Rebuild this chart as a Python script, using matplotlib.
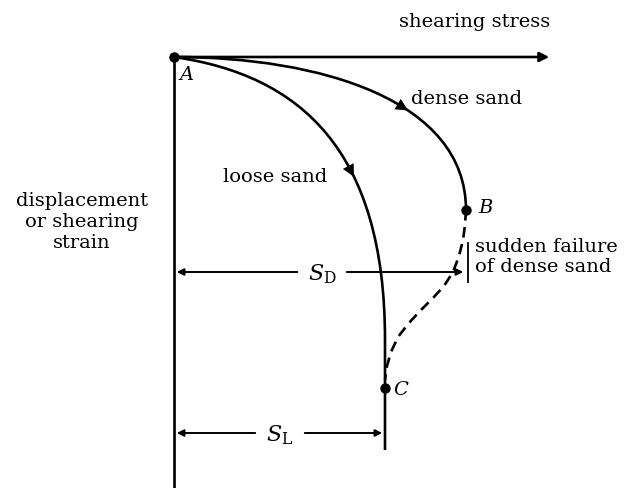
import numpy as np
import matplotlib.pyplot as plt
from matplotlib.path import Path
from matplotlib.patches import PathPatch
from matplotlib.bezier import BezierSegment

plt.rcParams['mathtext.fontset'] = 'dejavuserif'

# Curves (pixel-like units, y grows downward)
# dense sand: cubic Bezier A -> B (end points + two control points)
dense_x = [174, 320, 466, 466]
dense_y = [57, 57, 100, 210]

# loose sand: cubic Bezier A -> vertical part, then straight down
loose_x = [174, 300, 385, 385, 385]
loose_y = [57, 75, 150, 340, 450]

# sudden failure (dashed) B -> C
fail_x = [466, 465, 463, 459, 453, 444, 433, 420, 408, 398, 391, 387, 385]
fail_y = [210, 225, 240, 256, 272, 286, 298, 311, 324, 337, 352, 366, 380]

point_A = (174, 57)
point_B = (466, 210)
point_C = (385, 388)

sd_y, sd_x1 = 272, 466
sl_y, sl_x1 = 433, 385

fig = plt.figure(figsize=(6.33, 4.88), dpi=100)
ax = fig.add_axes([0, 0, 1, 1])
ax.set_xlim(0, 633)
ax.set_ylim(488, 0)
ax.axis('off')

fam = 'DejaVu Serif'
fs = 14
lw = 1.9

# axes
ax.annotate('', xy=(552, 57), xytext=point_A,
            arrowprops=dict(arrowstyle='-|>', lw=lw, color='black', mutation_scale=14))
ax.plot([174, 174], [57, 488], color='black', lw=lw)

# curves
dense_path = Path(list(zip(dense_x, dense_y)),
                  [Path.MOVETO, Path.CURVE4, Path.CURVE4, Path.CURVE4])
ax.add_patch(PathPatch(dense_path, fc='none', ec='black', lw=lw))
loose_path = Path(list(zip(loose_x, loose_y)),
                  [Path.MOVETO, Path.CURVE4, Path.CURVE4, Path.CURVE4, Path.LINETO])
ax.add_patch(PathPatch(loose_path, fc='none', ec='black', lw=lw))
ax.plot(fail_x, fail_y, color='black', lw=lw, ls=(0, (4, 2.5)))

# arrowheads along the curves
dense_seg = BezierSegment(np.column_stack([dense_x, dense_y]))
loose_seg = BezierSegment(np.column_stack([loose_x[:4], loose_y[:4]]))
for seg, t in ((dense_seg, 0.61), (loose_seg, 0.64)):
    ax.annotate('', xy=tuple(seg.point_at_t(t)), xytext=tuple(seg.point_at_t(t - 0.05)),
                arrowprops=dict(arrowstyle='-|>', lw=0, color='black', mutation_scale=22,
                                shrinkA=0, shrinkB=0))

# points
for p in (point_A, point_B, point_C):
    ax.plot(*p, 'o', color='black', ms=6.5)

# dimension lines
dim = dict(arrowstyle='-|>', lw=1.4, color='black', mutation_scale=10)
ax.annotate('', xy=(174, sd_y), xytext=(300, sd_y), arrowprops=dim)
ax.annotate('', xy=(sd_x1, sd_y), xytext=(344, sd_y), arrowprops=dim)
ax.plot([468, 468], [243, 282], color='black', lw=1.3)
ax.annotate('', xy=(174, sl_y), xytext=(258, sl_y), arrowprops=dim)
ax.annotate('', xy=(sl_x1, sl_y), xytext=(302, sl_y), arrowprops=dim)

# texts
ax.text(550, 22, 'shearing stress', ha='right', va='center', fontsize=fs, family=fam)
ax.text(522, 99, 'dense sand', ha='right', va='center', fontsize=fs, family=fam)
ax.text(275, 177, 'loose sand', ha='center', va='center', fontsize=fs, family=fam)
ax.text(82, 222, 'displacement\nor shearing\nstrain', ha='center', va='center',
        fontsize=fs, family=fam, linespacing=1.2)
ax.text(475, 257, 'sudden failure\nof dense sand', ha='left', va='center',
        fontsize=fs, family=fam, linespacing=1.2)
ax.text(179, 75, 'A', ha='left', va='center', fontsize=fs, family=fam, style='italic')
ax.text(478, 208, 'B', ha='left', va='center', fontsize=fs, family=fam, style='italic')
ax.text(393, 390, 'C', ha='left', va='center', fontsize=fs, family=fam, style='italic')
ax.text(322, 274, r'$S_{\mathrm{D}}$', ha='center', va='center', fontsize=16)
ax.text(280, 435, r'$S_{\mathrm{L}}$', ha='center', va='center', fontsize=16)

fig.savefig('out.png', dpi=100)
